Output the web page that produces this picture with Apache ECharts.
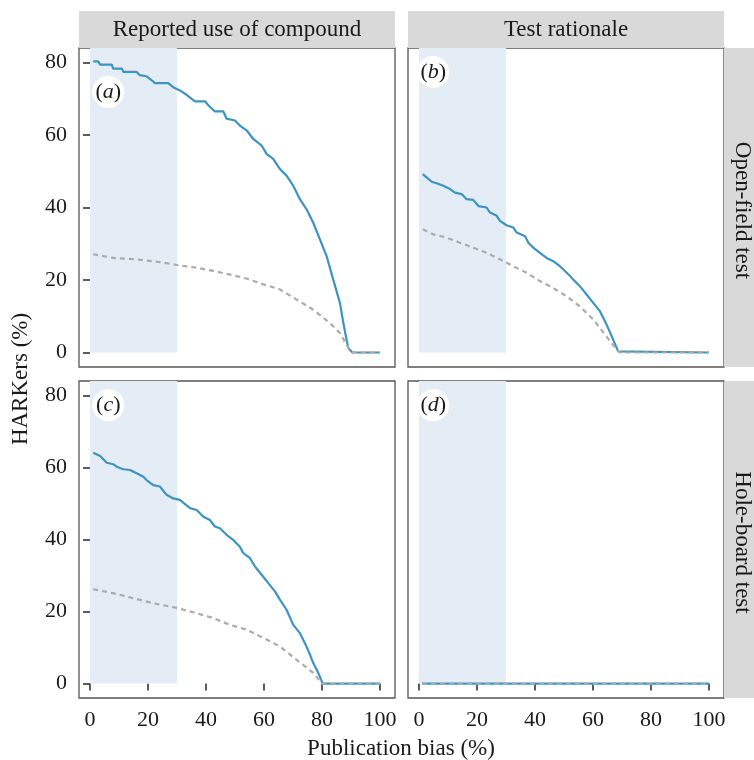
<!DOCTYPE html>
<html>
<head>
<meta charset="utf-8">
<script src="https://cdn.jsdelivr.net/npm/echarts@6/dist/echarts.min.js"></script>
<style>
  html, body { margin: 0; padding: 0; background: #fff; }
  #main { width: 754px; height: 760px; }
</style>
</head>
<body>
<div id="main"></div>
<script>
// facet labels
var colStrips = ['Reported use of compound', 'Test rationale'];
var rowStrips = ['Open-field test', 'Hole-board test'];
var panelTags = ['a', 'b', 'c', 'd'];
var xTicks = [0, 20, 40, 60, 80, 100];
var yTicks = [0, 20, 40, 60, 80];

// [publication bias %, HARKers %]
var aBlue = [[1.1,80.3],[2.8,80.3],[3.5,79.4],[7.5,79.4],[8,78.3],[11,78.3],[11.5,77.4],[16.1,77.4],[17.2,76.5],[19.5,76.2],
  [21.3,75.1],[22.4,74.3],[27,74.3],[28.7,73.2],[31,72.3],[33.3,71.1],[36.2,69.3],[39.7,69.3],[40.8,68.2],[43.1,66.5],
  [46,66.5],[47.1,64.5],[50,64],[51.7,62.6],[54,61.3],[56.3,58.9],[59.2,57.1],[60.9,54.8],[63.2,53.4],[65.5,50.6],
  [67.8,48.8],[70.1,46],[72.4,42.3],[74.7,39.5],[77,35.8],[79.3,31.2],[81.6,26.6],[83.9,20.1],[86.2,13.7],[87.4,8.1],
  [88.5,3.5],[89.1,1.2],[90.5,0],[100,0]];
var aGrey = [[1.1,27.1],[8,26.1],[16.1,25.7],[25.3,24.8],[31,24],[36.8,23.4],[42.5,22.5],[48.3,21.5],[54,20.4],
  [59.8,18.8],[65.5,17.4],[71.3,14.6],[77,11.8],[82.8,8.1],[86.2,5.4],[88.5,2.1],[90.2,0],[100,0]];
var bBlue = [[1.3,49.2],[2.6,48.3],[4.4,47.1],[6.1,46.7],[8.4,46],[10.7,45.1],[12.4,44.1],[14.7,43.7],[16.4,42.3],
  [18.7,42.1],[20.5,40.4],[23.3,40],[24.5,38.6],[26.8,37.7],[27.9,36.3],[30.2,35.1],[32.5,34.5],[33.7,33.1],
  [36.6,32.1],[37.7,30.3],[39.4,28.9],[41.7,27.5],[44,26.1],[46.3,25.2],[48.6,23.8],[49.8,22.9],[52.1,21.1],
  [53.2,20.1],[55.5,18.3],[57.8,16],[60.1,13.7],[62.4,11.4],[64.7,7.7],[67,3.5],[68.7,0.3],[69.3,0],[100,0]];
var bGrey = [[1.3,34],[4.9,32.6],[9.5,31.7],[14.1,30.3],[18.7,28.9],[23.3,27.5],[27.9,25.7],[32.5,23.8],[37.1,22],
  [41.7,19.7],[46.3,17.8],[50.9,15.5],[55.5,12.7],[60.1,9.1],[64.7,4.4],[68.2,0.7],[69.3,0],[100,0]];
var cBlue = [[1.1,64.1],[3.5,63.2],[5.8,61.3],[8,60.9],[9.2,60.2],[11.5,59.5],[13.8,59.3],[16.1,58.4],[18.4,57.4],
  [19.5,56.5],[21.8,55.1],[24.1,54.7],[26.4,52.4],[28.7,51.4],[31,51],[34.5,48.7],[36.8,48.2],[39.1,46.3],
  [41.4,45.4],[43.1,43.6],[44.8,43.1],[47.1,41.3],[49.4,39.9],[51.7,38],[52.9,36.2],[55.2,34.8],[56.9,32.5],
  [59.2,30.2],[61.5,27.9],[63.8,25.6],[65.5,23.3],[67.8,20.5],[70.1,16.3],[72.4,14],[74.1,11.3],[75.9,8],
  [77,5.7],[78.7,3],[80.3,0],[100,0]];
var cGrey = [[1.1,26.2],[8,25.1],[14.9,23.7],[21.8,22.3],[29.9,21],[35.6,19.8],[42.5,18.2],[48.3,16.3],[54,15],
  [59.8,12.7],[65.5,10.3],[71.3,6.6],[77,3],[79.9,0],[100,0]];
var dBlue = [[1,0],[100,0]];
var dGrey = [[1,0],[100,0]];

var blueSets = [aBlue, bBlue, cBlue, dBlue];
var greySets = [aGrey, bGrey, cGrey, dGrey];
// where each panel tag sits, in data units
var tagSpots = [[6.3, 71.9], [4.9, 77.4], [6.3, 77.3], [4.9, 77.3]];

var font = 'Liberation Serif';
var ink = '#1a1a1a';
var boxes = [
  { left: 79, top: 48, width: 316, height: 319 },
  { left: 408, top: 48, width: 316, height: 319 },
  { left: 79, top: 381, width: 316, height: 317 },
  { left: 408, top: 381, width: 316, height: 317 }
];

var grids = [], xAxes = [], yAxes = [], series = [];
boxes.forEach(function (b, i) {
  grids.push({
    left: b.left, top: b.top, width: b.width, height: b.height,
    show: true, backgroundColor: '#fff', borderColor: '#555', borderWidth: 1.3
  });
  var bottomRow = i >= 2, leftCol = i % 2 === 0;
  xAxes.push({
    type: 'value', gridIndex: i, min: -3.8, max: 105.2,
    axisLine: { show: false }, splitLine: { show: false },
    axisTick: { show: bottomRow, customValues: xTicks, length: 7, lineStyle: { color: '#333', width: 1.6 } },
    axisLabel: { show: bottomRow, customValues: xTicks, fontFamily: font, fontSize: 22, color: ink, margin: 11 }
  });
  yAxes.push({
    type: 'value', gridIndex: i, min: -4, max: 84,
    axisLine: { show: false }, splitLine: { show: false },
    axisTick: { show: leftCol, customValues: yTicks, length: 7, lineStyle: { color: '#333', width: 1.6 } },
    axisLabel: { show: leftCol, customValues: yTicks, fontFamily: font, fontSize: 22, color: ink, margin: 12 }
  });
  series.push({
    type: 'line', xAxisIndex: i, yAxisIndex: i, data: blueSets[i],
    symbol: 'none', silent: true, z: 2,
    lineStyle: { color: '#3d93c1', width: 2.2 },
    markArea: {
      silent: true,
      itemStyle: { color: '#e4edf5' },
      data: [[{ xAxis: 0, yAxis: 0 }, { xAxis: 30, yAxis: 84 }]]
    }
  });
  series.push({
    type: 'line', xAxisIndex: i, yAxisIndex: i, data: greySets[i],
    symbol: 'none', silent: true, z: 3,
    lineStyle: { color: '#ababab', width: 2.2, type: [5, 4] },
    markPoint: {
      silent: true, symbol: 'circle', symbolSize: 32,
      itemStyle: { color: '#fff' },
      label: {
        show: true, formatter: '{p|(}{i|' + panelTags[i] + '}{p|)}',
        rich: {
          p: { fontFamily: font, fontSize: 22, color: ink },
          i: { fontFamily: font, fontSize: 22, fontStyle: 'italic', color: ink }
        }
      },
      data: [{ coord: tagSpots[i] }]
    }
  });
});

var graphics = [];
colStrips.forEach(function (t, i) {
  var b = boxes[i];
  graphics.push({ type: 'rect', shape: { x: b.left, y: 11, width: b.width, height: 37 }, style: { fill: '#d9d9d9' } });
  graphics.push({ type: 'text', x: b.left + b.width / 2, y: 30,
    style: { text: t, font: '23px "' + font + '"', fill: ink, textAlign: 'center', textVerticalAlign: 'middle' } });
});
rowStrips.forEach(function (t, i) {
  var b = boxes[i * 2 + 1];
  graphics.push({ type: 'rect', shape: { x: 724, y: b.top, width: 40, height: b.height }, style: { fill: '#d9d9d9' } });
  graphics.push({ type: 'text', x: 742, y: b.top + b.height / 2 + 3, rotation: -Math.PI / 2,
    style: { text: t, font: '23px "' + font + '"', fill: ink, textAlign: 'center', textVerticalAlign: 'middle' } });
});
graphics.push({ type: 'text', x: 401, y: 749,
  style: { text: 'Publication bias (%)', font: '23px "' + font + '"', fill: ink, textAlign: 'center', textVerticalAlign: 'middle' } });
graphics.push({ type: 'text', x: 21, y: 379, rotation: Math.PI / 2,
  style: { text: 'HARKers (%)', font: '23px "' + font + '"', fill: ink, textAlign: 'center', textVerticalAlign: 'middle' } });

var chart = echarts.init(document.getElementById('main'), null, { renderer: 'canvas' });
chart.setOption({
  animation: false,
  backgroundColor: '#fff',
  grid: grids,
  xAxis: xAxes,
  yAxis: yAxes,
  series: series,
  graphic: graphics
});
</script>
</body>
</html>
